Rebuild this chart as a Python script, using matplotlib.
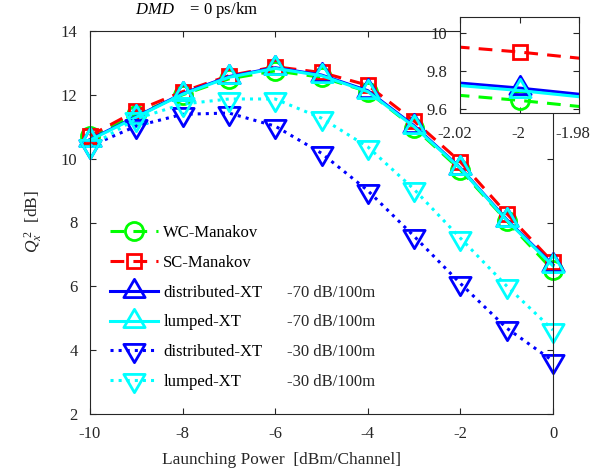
import matplotlib
matplotlib.use("Agg")
import matplotlib.pyplot as plt
from matplotlib.path import Path
from matplotlib.transforms import ScaledTranslation

plt.rcParams["font.family"] = ["Liberation Serif", "DejaVu Serif"]
plt.rcParams["mathtext.fontset"] = "custom"
plt.rcParams["mathtext.rm"] = "Liberation Serif"
plt.rcParams["mathtext.it"] = "Liberation Serif:italic"
plt.rcParams["axes.unicode_minus"] = False

# launch power sweep and Q-factors per model
power = [-10, -9, -8, -7, -6, -5, -4, -3, -2, -1, 0]
wc_manakov = [10.70, 11.38, 12.00, 12.50, 12.75, 12.55, 12.10, 10.97, 9.645, 8.05, 6.50]
sc_manakov = [10.72, 11.50, 12.10, 12.60, 12.88, 12.70, 12.30, 11.18, 9.90, 8.28, 6.75]
dist_xt_70 = [10.60, 11.32, 12.04, 12.57, 12.85, 12.62, 12.13, 11.03, 9.71, 8.09, 6.67]
lump_xt_70 = [10.58, 11.30, 12.02, 12.55, 12.83, 12.60, 12.10, 11.00, 9.697, 8.07, 6.64]
dist_xt_30 = [10.39, 11.02, 11.39, 11.43, 11.02, 10.17, 9.00, 7.57, 6.09, 4.69, 3.66]
lump_xt_30 = [10.39, 11.25, 11.71, 11.87, 11.87, 11.27, 10.37, 9.04, 7.51, 6.01, 4.63]

labels = ["WC-Manakov", "SC-Manakov", "distributed-XT", "lumped-XT",
          "distributed-XT", "lumped-XT"]
xt_levels = ["", "", "-70 dB/100m", "-70 dB/100m", "-30 dB/100m", "-30 dB/100m"]

x_ticks = [-10, -8, -6, -4, -2, 0]
y_ticks = [2, 4, 6, 8, 10, 12, 14]
inset_x_ticks = [-2.02, -2, -1.98]
inset_y_ticks = [9.6, 9.8, 10]

# triangles with the data point at the centroid
tri_up = Path([(0, 1), (-0.875, -0.5), (0.875, -0.5), (0, 1)], closed=True)
tri_down = Path([(0, -1), (-0.875, 0.5), (0.875, 0.5), (0, -1)], closed=True)

GREEN = "#00ff00"
RED = "#ff0000"
BLUE = "#0000ff"
CYAN = "#00ffff"
INK = "#262626"

styles = [
    dict(color=GREEN, dashes=(4.5, 3), marker="o", ms=13),
    dict(color=RED, dashes=(4.5, 3), marker="s", ms=10.5),
    dict(color=BLUE, ls="-", marker=tri_up, ms=17.5),
    dict(color=CYAN, ls="-", marker=tri_up, ms=17.5),
    dict(color=BLUE, ls=":", marker=tri_down, ms=17.5),
    dict(color=CYAN, ls=":", marker=tri_down, ms=17.5),
]
series = [wc_manakov, sc_manakov, dist_xt_70, lump_xt_70, dist_xt_30, lump_xt_30]


def draw(ax, clip):
    handles = []
    for q, lab, st in zip(series, labels, styles):
        h, = ax.plot(power, q, label=lab, lw=2.2, mew=2, mfc="none",
                     clip_on=clip, **st)
        handles.append(h)
    return handles


def style_axes(ax, fs):
    for s in ax.spines.values():
        s.set_color(INK)
        s.set_linewidth(0.8)
    ax.tick_params(direction="in", length=4, width=0.8, colors=INK,
                   labelsize=fs, top=True, right=True, pad=9)


fig = plt.figure(figsize=(5.92, 4.75), dpi=100)
ax = fig.add_axes([90 / 592, 1 - 414 / 475, 463 / 592, 383 / 475])
handles = draw(ax, False)
ax.set_xlim(-10, 0)
ax.set_ylim(2, 14)
ax.set_xticks(x_ticks)
ax.set_xticklabels([str(v) for v in x_ticks])
ax.set_yticks(y_ticks)
ax.set_yticklabels([str(v) for v in y_ticks])
style_axes(ax, 12)

leg = ax.legend(handles=handles, loc="upper left",
                bbox_to_anchor=(20 / 463, (414 - 225) / 383),
                frameon=False, fontsize=12, numpoints=1, handlelength=2.9,
                handletextpad=0.3, labelspacing=0.83, borderpad=0,
                borderaxespad=0)

fig.text(33 / 592, 1 - 222 / 475, r"$Q_x^{\,2}$  [dB]", rotation=90,
         ha="center", va="center", fontsize=12.5, color=INK)
fig.text(282 / 592, 1 - 460 / 475, "Launching Power  [dBm/Channel]",
         ha="center", va="center", fontsize=12.4, color=INK)
fig.text(135 / 592, 1 - 10 / 475, r"$DMD$    = 0 ps/km",
         ha="left", va="center", fontsize=12, color="black")

# zoom on the -2 dBm point
ax_in = fig.add_axes([460 / 592, 1 - 113.3 / 475, 119 / 592, 96 / 475])
draw(ax_in, True)
ax_in.set_xlim(-2.02, -1.98)
ax_in.set_ylim(9.577, 10.083)
ax_in.set_xticks(inset_x_ticks)
ax_in.set_xticklabels(["-2.02", "-2", "-1.98"])
ax_in.set_yticks(inset_y_ticks)
ax_in.set_yticklabels(["9.6", "9.8", "10"])
style_axes(ax_in, 12)
ax_in.patch.set_alpha(1)
for lbl, dx in zip(ax_in.get_xticklabels(), [-5, -1, -6]):
    lbl.set_transform(lbl.get_transform()
                      + ScaledTranslation(dx / 100, 0, fig.dpi_scale_trans))

# second legend column with the crosstalk level
fig.canvas.draw()
for txt, level in zip(leg.get_texts(), xt_levels):
    if level:
        y0 = fig.transFigure.inverted().transform(
            (0, txt.get_window_extent().y0))[1]
        fig.text(287 / 592, y0, level, ha="left", va="bottom", fontsize=12,
                 color=INK)

fig.savefig("out.png", dpi=100)
